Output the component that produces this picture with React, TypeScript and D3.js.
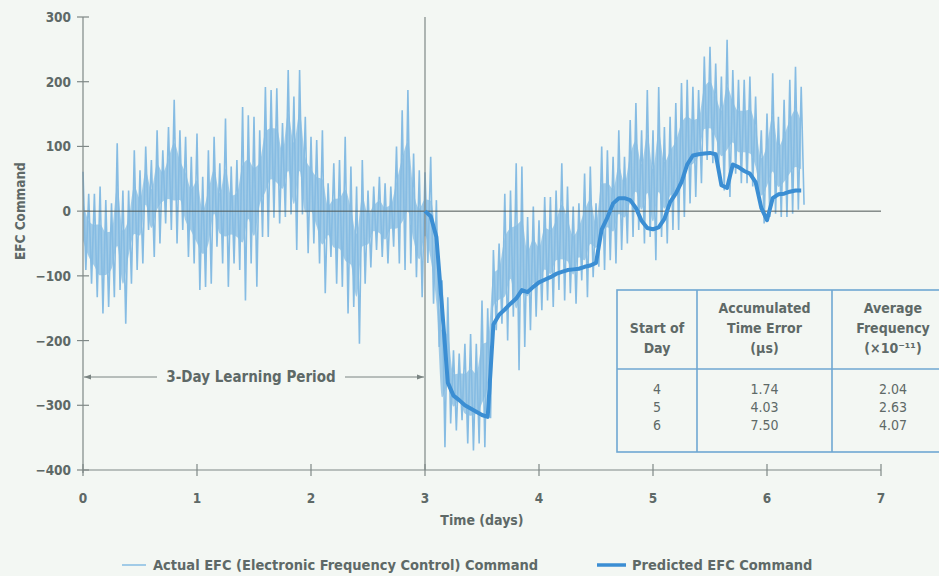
// EFC command over time: actual (noisy) vs predicted, with learning period and summary table
import React, { useEffect, useRef } from 'react';
import * as d3 from 'd3';

const STEP = 0.05; // days between samples

// envelope of the actual EFC command, one high/low pair per sample, from t = 0
const actualHigh = [
  61, 27, 27, 38, 17, 12, 105, 32, 32, 94, 63, 100, 79, 125, 94, 130, 172, 125, 115, 84,
  120, 53, 94, 115, 74, 143, 69, 79, 161, 148, 146, 125, 192, 187, 190, 136, 218, 177, 218, 146,
  115, 110, 125, 43, 74, 79, 115, 69, 38, 79, 32, 38, 53, 43, 38, 100, 156, 187, 89, 63,
  60, 84, 17, -107, -133, -215, -220, -205, -190, -205, -138, -150, -60, -50, 27, 32, 74, 69, -9, 7,
  -14, 22, 22, 32, 74, 38, 7, 12, 58, 69, 12, 100, 94, 84, 125, 84, 141, 167, 125, 187,
  125, 192, 130, 146, 167, 198, 203, 192, 187, 239, 254, 228, 208, 265, 218, 203, 203, 208, 177, 125,
  151, 213, 146, 172, 203, 223, 192,
];
const actualLow = [
  -91, -112, -133, -158, -148, -133, -122, -174, -112, -91, -81, -29, -71, -50, -19, -29, -50, -29, -71, -81,
  -122, -117, -112, -55, -81, -117, -81, -91, -138, -81, -117, -40, -40, -10, -19, -9, -5, -60, -5, -65,
  -50, -81, -127, -71, -112, -117, -158, -148, -205, -112, -87, -60, -71, -81, -55, -81, -91, -81, -102, -133,
  -80, -143, -210, -365, -328, -339, -323, -359, -370, -359, -365, -320, -184, -174, -200, -163, -246, -210, -184, -163,
  -153, -138, -148, -122, -138, -127, -143, -107, -133, -102, -86, -91, -76, -81, -60, -50, -40, -29, -50, -40,
  -76, -40, -50, -29, -29, -9, 12, 22, 43, 79, 74, 63, 32, 22, 58, 43, 43, 38, 22, -19,
  -9, -4, -9, -9, -4, 2, 10,
];

// predicted EFC command, from t = 3
const PRED_START = 3;
const predicted = [
  0, -8, -40, -150, -265, -285, -292, -300, -305, -310, -315, -318, -175, -160, -152, -143, -135, -122, -125, -117,
  -110, -106, -102, -97, -94, -91, -90, -89, -86, -84, -80, -28, -10, 12, 20, 20, 17, 5, -15, -26,
  -28, -25, -12, 14, 27, 45, 72, 86, 88, 89, 90, 88, 40, 36, 72, 68, 62, 58, 45, 5,
  -14, 20, 26, 27, 30, 32, 32,
];

const xTicks = [0, 1, 2, 3, 4, 5, 6, 7];
const yTicks = [-400, -300, -200, -100, 0, 100, 200, 300];

const headStart = ['Start of', 'Day'];
const headError = ['Accumulated', 'Time Error', '(\u00b5s)'];
const headFreq = ['Average', 'Frequency', '(\u00d710\u207b\u00b9\u00b9)'];
const tableDays = ['4', '5', '6'];
const timeErrors = ['1.74', '4.03', '7.50'];
const avgFrequencies = ['2.04', '2.63', '4.07'];

const W = 939;
const H = 576;
const FONT = "'Liberation Sans Narrow', 'DejaVu Sans Condensed', 'Roboto Condensed', sans-serif";
const BG = '#f3f7f3';
const TEXT = '#5e6967';
const LIGHT = '#86bce3';
const DARK = '#3b8ed3';
const GRID = '#7f8886';

const App: React.FC = () => {
  const svgRef = useRef<SVGSVGElement>(null);

  useEffect(() => {
    const svg = d3.select(svgRef.current);
    svg.selectAll('*').remove();

    const x = d3.scaleLinear().domain([0, 7]).range([83, 881]);
    const y = d3.scaleLinear().domain([-400, 300]).range([470, 17]);

    svg.append('rect').attr('width', W).attr('height', H).attr('fill', BG);

    const defs = svg.append('defs');
    defs
      .append('marker')
      .attr('id', 'arr')
      .attr('viewBox', '0 0 10 10')
      .attr('refX', 10)
      .attr('refY', 5)
      .attr('markerWidth', 9)
      .attr('markerHeight', 7)
      .attr('markerUnits', 'userSpaceOnUse')
      .attr('orient', 'auto-start-reverse')
      .append('path')
      .attr('d', 'M0,1.5 L10,5 L0,8.5 Z')
      .attr('fill', '#7a8482');

    // actual EFC: a soft band between low and high, plus a zigzag through them
    const band = d3
      .area<number>()
      .x((_, i) => x(i * STEP))
      .y0((_, i) => y(actualLow[i] * 0.7 + actualHigh[i] * 0.3))
      .y1((d, i) => y(d * 0.7 + actualLow[i] * 0.3))
      .curve(d3.curveMonotoneX);
    svg
      .append('path')
      .datum(actualHigh)
      .attr('fill', LIGHT)
      .attr('opacity', 0.75)
      .attr('d', band);

    const actualPts: [number, number][] = [];
    actualHigh.forEach((h, i) => {
      actualPts.push([i * STEP, h]);
      actualPts.push([i * STEP + STEP / 2, actualLow[i]]);
    });
    const line = d3
      .line<[number, number]>()
      .x((d) => x(d[0]))
      .y((d) => y(d[1]));

    svg
      .append('path')
      .datum(actualPts)
      .attr('fill', 'none')
      .attr('stroke', LIGHT)
      .attr('stroke-width', 1.6)
      .attr('d', line);

    // zero line and learning period divider
    svg
      .append('line')
      .attr('x1', x(0))
      .attr('x2', x(7))
      .attr('y1', y(0))
      .attr('y2', y(0))
      .attr('stroke', '#4c5553')
      .attr('stroke-width', 1);
    svg
      .append('line')
      .attr('x1', x(3))
      .attr('x2', x(3))
      .attr('y1', y(300))
      .attr('y2', y(-400))
      .attr('stroke', GRID)
      .attr('stroke-width', 1.2);

    // predicted EFC
    const predPts: [number, number][] = predicted.map((v, i) => [PRED_START + i * STEP, v]);
    svg
      .append('path')
      .datum(predPts)
      .attr('fill', 'none')
      .attr('stroke', DARK)
      .attr('stroke-width', 4)
      .attr('stroke-linejoin', 'round')
      .attr('d', line);

    // axes
    const axes = svg.append('g').attr('stroke', GRID).attr('stroke-width', 1.2);
    axes.append('line').attr('x1', x(0)).attr('x2', x(0)).attr('y1', y(300)).attr('y2', y(-400) + 3);
    axes.append('line').attr('x1', x(0)).attr('x2', x(7)).attr('y1', y(-400)).attr('y2', y(-400));
    yTicks.forEach((t) => {
      axes.append('line').attr('x1', x(0) - 6).attr('x2', x(0) + 6).attr('y1', y(t)).attr('y2', y(t));
    });
    xTicks.forEach((t) => {
      axes.append('line').attr('x1', x(t)).attr('x2', x(t)).attr('y1', y(-400) - 6).attr('y2', y(-400) + 6);
    });

    const text = (tx: number, ty: number, s: string, size = 14, anchor = 'middle', weight = '700') =>
      svg
        .append('text')
        .attr('x', tx)
        .attr('y', ty)
        .attr('text-anchor', anchor)
        .attr('font-family', FONT)
        .attr('font-size', size)
        .attr('font-weight', weight)
        .attr('fill', TEXT)
        .text(s);

    const fmt = d3.format('d');
    yTicks.forEach((t) => text(71, y(t) + 5, fmt(t), 13.5, 'end'));
    xTicks.forEach((t) => text(x(t), 503, String(t), 13.5));
    text(x(3.5), 525, 'Time (days)', 14);
    text(0, 0, 'EFC Command', 13.5).attr('transform', `translate(25, ${y(0)}) rotate(-90)`);

    // learning period annotation
    const ay = 377;
    svg
      .append('line')
      .attr('x1', 157)
      .attr('x2', x(0) + 1)
      .attr('y1', ay)
      .attr('y2', ay)
      .attr('stroke', '#7a8482')
      .attr('stroke-width', 1)
      .attr('marker-end', 'url(#arr)');
    svg
      .append('line')
      .attr('x1', 345)
      .attr('x2', x(3) - 1)
      .attr('y1', ay)
      .attr('y2', ay)
      .attr('stroke', '#7a8482')
      .attr('stroke-width', 1)
      .attr('marker-end', 'url(#arr)');
    text(251, ay + 5, '3-Day Learning Period', 15);

    // summary table
    const tb = { left: 617, c1: 697, c2: 832, right: 960, top: 290, mid: 369, bottom: 452 };
    const tg = svg.append('g');
    tg.append('rect')
      .attr('x', tb.left)
      .attr('y', tb.top)
      .attr('width', tb.right - tb.left)
      .attr('height', tb.bottom - tb.top)
      .attr('fill', BG)
      .attr('stroke', '#6fa7d2')
      .attr('stroke-width', 1.6);
    tg.append('line').attr('x1', tb.left).attr('x2', tb.right).attr('y1', tb.mid).attr('y2', tb.mid);
    tg.append('line').attr('x1', tb.c1).attr('x2', tb.c1).attr('y1', tb.top).attr('y2', tb.bottom);
    tg.append('line').attr('x1', tb.c2).attr('x2', tb.c2).attr('y1', tb.top).attr('y2', tb.bottom);
    tg.selectAll('line').attr('stroke', '#6fa7d2').attr('stroke-width', 1.6);

    const colX = [(tb.left + tb.c1) / 2, (tb.c1 + tb.c2) / 2, 893];
    const rowY = [313, 333, 353];
    headStart.forEach((s, i) => text(colX[0], rowY[i + 1], s, 14));
    headError.forEach((s, i) => text(colX[1], rowY[i], s, 14));
    headFreq.forEach((s, i) => text(colX[2], rowY[i], s, 14));
    const dataY = [394, 412, 430];
    tableDays.forEach((s, i) => text(colX[0], dataY[i], s, 14, 'middle', '400'));
    timeErrors.forEach((s, i) => text(colX[1], dataY[i], s, 14, 'middle', '400'));
    avgFrequencies.forEach((s, i) => text(colX[2], dataY[i], s, 14, 'middle', '400'));

    // legend
    const ly = 565;
    svg.append('line').attr('x1', 122).attr('x2', 146).attr('y1', ly).attr('y2', ly).attr('stroke', LIGHT).attr('stroke-width', 1.5);
    text(153, ly + 5, 'Actual EFC (Electronic Frequency Control) Command', 14.5, 'start');
    svg.append('line').attr('x1', 597).attr('x2', 626).attr('y1', ly).attr('y2', ly).attr('stroke', DARK).attr('stroke-width', 3.5);
    text(632, ly + 5, 'Predicted EFC Command', 14.5, 'start');
  }, []);

  return (
    <div style={{ position: 'fixed', left: 0, top: 0, width: W, height: H }}>
      <svg ref={svgRef} width={W} height={H} style={{ display: 'block' }}></svg>
    </div>
  );
};

export default App;
